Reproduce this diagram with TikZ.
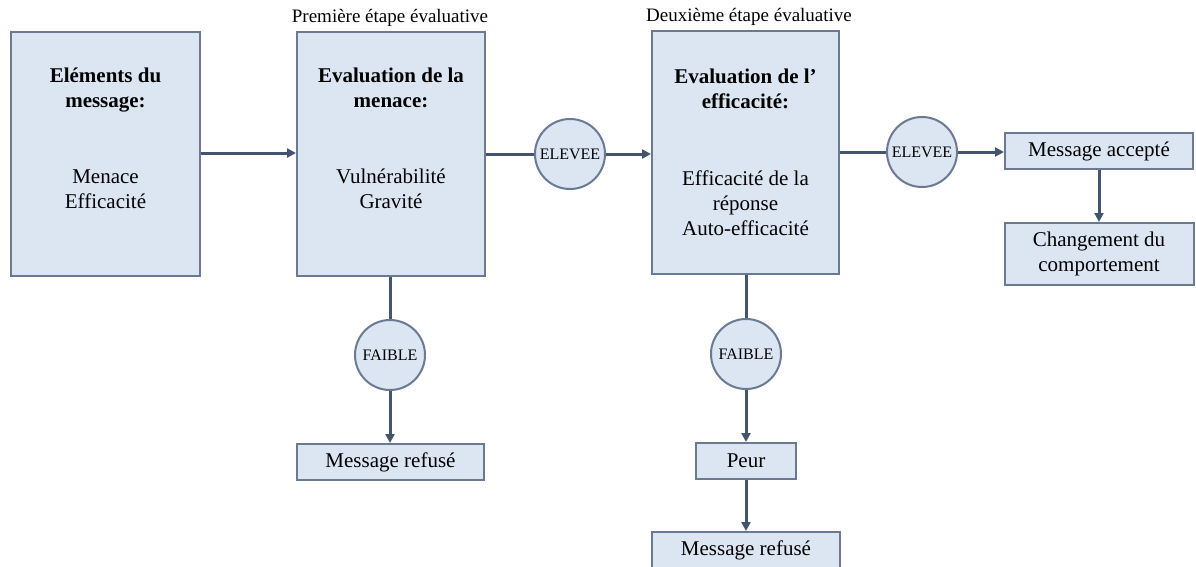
\documentclass[tikz,border=0pt]{standalone}
\usepackage{fontspec}
\setmainfont{Liberation Serif}
\usetikzlibrary{arrows.meta}
\definecolor{boxfill}{HTML}{DCE6F2}
\definecolor{boxline}{HTML}{6A7A93}
\definecolor{linkcol}{HTML}{44546E}
\tikzset{
  stage/.style={draw=boxline, fill=boxfill, line width=2pt, inner sep=0pt,
    minimum width=#1, minimum height=244pt},
  result/.style={draw=boxline, fill=boxfill, line width=2pt, inner sep=0pt,
    align=center, font=\fontsize{21}{25}\selectfont},
  decision/.style={circle, draw=boxline, fill=boxfill, line width=2pt,
    inner sep=0pt, minimum size=70pt, font=\fontsize{16}{18}\selectfont},
  heading/.style={anchor=north, align=center, inner sep=0pt,
    font=\fontsize{21}{25}\selectfont\bfseries},
  bodytext/.style={anchor=north, align=center, inner sep=0pt,
    font=\fontsize{21}{25}\selectfont},
  steplabel/.style={anchor=base, inner sep=0pt, font=\fontsize{19}{22}\selectfont},
  link/.style={draw=linkcol, line width=3pt},
  flow/.style={link, -{Triangle[length=9pt,width=9pt]}},
}
\begin{document}
\begin{tikzpicture}[x=1pt,y=-1pt]
\useasboundingbox (0,0) rectangle (1196,566);
\clip (0,0) rectangle (1196,566);

% main evaluation stages
\node[stage=189pt] (b1) at (105.5,154) {};
\node[stage=188pt] (b2) at (391,154) {};
\node[stage=187pt, minimum height=243pt] (b3) at (745.5,152.5) {};

\node[steplabel] (s1) at (390,22) {Première étape évaluative};
\node[steplabel] (s2) at (749,21) {Deuxième étape évaluative};

\node[heading] (b1h) at (105.5,64.5) {\strut Eléments du\\message:};
\node[bodytext] (b1b) at (105.5,165.5) {\strut Menace\\Efficacité};

\node[heading] (b2h) at (391,64.5) {\strut Evaluation de la\\menace:};
\node[bodytext] (b2b) at (391,165.5) {\strut Vulnérabilité\\Gravité};

\node[heading] (b3h) at (745.5,65.5) {\strut Evaluation de l’\\efficacité:};
\node[bodytext] (b3b) at (745.5,167.5) {\strut Efficacité de la\\réponse\\Auto-efficacité};

% decision points
\node[decision] (e1) at (570,154) {ELEVEE};
\node[decision] (e2) at (922,152) {ELEVEE};
\node[decision] (f1) at (390,355) {FAIBLE};
\node[decision] (f2) at (746,354) {FAIBLE};

% outcomes
\node[result, minimum width=188pt, minimum height=36pt] (acc) at (1099,151) {Message accepté};
\node[result, minimum width=189pt, minimum height=62pt] (chg) at (1099,254) {Changement du\\comportement};
\node[result, minimum width=187pt, minimum height=36pt] (ref1) at (390.5,462) {Message refusé};
\node[result, minimum width=100pt, minimum height=36pt] (peur) at (746,461) {Peur};
\node[result, minimum width=188pt, minimum height=36pt] (ref2) at (746,550) {Message refusé};

% connectors
\draw[flow] (b1.east |- 0,153) -- (b2.west |- 0,153);
\draw[link] (b2.east |- e1) -- (e1.west);
\draw[flow] (e1.east) -- (e1 -| b3.west);
\draw[link] (b3.east |- e2) -- (e2.west);
\draw[flow] (e2.east) -- (e2 -| acc.west);
\draw[flow] (acc.south) -- (chg.north);

\draw[link] (b2.south -| f1) -- (f1.north);
\draw[flow] (f1.south) -- (f1 |- ref1.north);
\draw[link] (b3.south -| f2) -- (f2.north);
\draw[flow] (f2.south) -- (peur.north);
\draw[flow] (peur.south) -- (ref2.north);
\end{tikzpicture}
\end{document}
